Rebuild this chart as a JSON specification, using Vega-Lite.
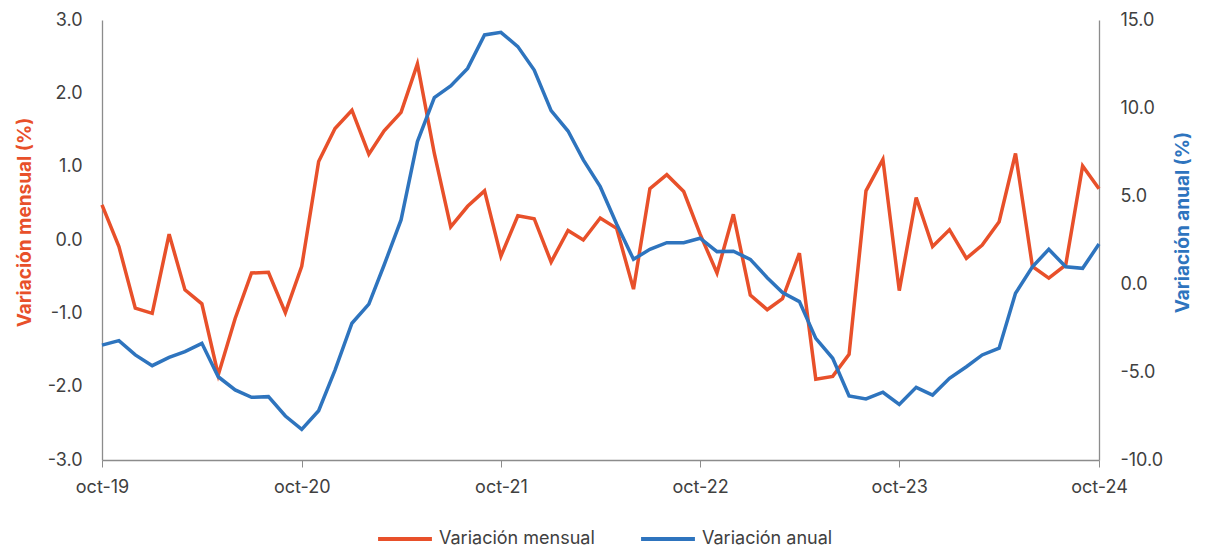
{
  "$schema": "https://vega.github.io/schema/vega-lite/v6.json",
  "autosize": {"type": "none"},
  "width": 997,
  "height": 440,
  "padding": {"left": 102, "top": 20, "right": 109, "bottom": 88},
  "background": "white",
  "config": {
    "view": {"stroke": null},
    "font": "Inter",
    "axis": {
      "labelFont": "Inter",
      "labelFontSize": 18,
      "labelColor": "#404040",
      "domainColor": "#8c8c8c",
      "domainWidth": 1.3,
      "tickColor": "#8c8c8c",
      "grid": false
    },
    "legend": {"labelFont": "Inter", "labelFontSize": 18, "labelColor": "#404040"}
  },
  "data": {
    "values": [
      {"fecha": "2019-10-01", "mensual": 0.48, "anual": -3.47},
      {"fecha": "2019-11-01", "mensual": -0.09, "anual": -3.22},
      {"fecha": "2019-12-01", "mensual": -0.93, "anual": -4.03},
      {"fecha": "2020-01-01", "mensual": -1.0, "anual": -4.64},
      {"fecha": "2020-02-01", "mensual": 0.08, "anual": -4.17},
      {"fecha": "2020-03-01", "mensual": -0.68, "anual": -3.84},
      {"fecha": "2020-04-01", "mensual": -0.87, "anual": -3.37},
      {"fecha": "2020-05-01", "mensual": -1.84, "anual": -5.27},
      {"fecha": "2020-06-01", "mensual": -1.07, "anual": -6.02},
      {"fecha": "2020-07-01", "mensual": -0.45, "anual": -6.44},
      {"fecha": "2020-08-01", "mensual": -0.44, "anual": -6.4},
      {"fecha": "2020-09-01", "mensual": -0.99, "anual": -7.5},
      {"fecha": "2020-10-01", "mensual": -0.36, "anual": -8.26},
      {"fecha": "2020-11-01", "mensual": 1.07, "anual": -7.2},
      {"fecha": "2020-12-01", "mensual": 1.52, "anual": -4.89},
      {"fecha": "2021-01-01", "mensual": 1.77, "anual": -2.23},
      {"fecha": "2021-02-01", "mensual": 1.17, "anual": -1.14},
      {"fecha": "2021-03-01", "mensual": 1.49, "anual": 1.08},
      {"fecha": "2021-04-01", "mensual": 1.74, "anual": 3.64},
      {"fecha": "2021-05-01", "mensual": 2.4, "anual": 8.09},
      {"fecha": "2021-06-01", "mensual": 1.18, "anual": 10.59},
      {"fecha": "2021-07-01", "mensual": 0.18, "anual": 11.25},
      {"fecha": "2021-08-01", "mensual": 0.46, "anual": 12.25},
      {"fecha": "2021-09-01", "mensual": 0.67, "anual": 14.15},
      {"fecha": "2021-10-01", "mensual": -0.22, "anual": 14.3},
      {"fecha": "2021-11-01", "mensual": 0.33, "anual": 13.49},
      {"fecha": "2021-12-01", "mensual": 0.29, "anual": 12.16},
      {"fecha": "2022-01-01", "mensual": -0.3, "anual": 9.85},
      {"fecha": "2022-02-01", "mensual": 0.13, "anual": 8.69},
      {"fecha": "2022-03-01", "mensual": 0.0, "anual": 7.05},
      {"fecha": "2022-04-01", "mensual": 0.3, "anual": 5.53},
      {"fecha": "2022-05-01", "mensual": 0.16, "anual": 3.41},
      {"fecha": "2022-06-01", "mensual": -0.67, "anual": 1.4},
      {"fecha": "2022-07-01", "mensual": 0.7, "anual": 1.97},
      {"fecha": "2022-08-01", "mensual": 0.89, "anual": 2.35},
      {"fecha": "2022-09-01", "mensual": 0.66, "anual": 2.35},
      {"fecha": "2022-10-01", "mensual": 0.08, "anual": 2.6},
      {"fecha": "2022-11-01", "mensual": -0.45, "anual": 1.84},
      {"fecha": "2022-12-01", "mensual": 0.35, "anual": 1.86},
      {"fecha": "2023-01-01", "mensual": -0.75, "anual": 1.4},
      {"fecha": "2023-02-01", "mensual": -0.95, "anual": 0.36},
      {"fecha": "2023-03-01", "mensual": -0.8, "anual": -0.49},
      {"fecha": "2023-04-01", "mensual": -0.18, "anual": -1.0},
      {"fecha": "2023-05-01", "mensual": -1.9, "anual": -3.09},
      {"fecha": "2023-06-01", "mensual": -1.86, "anual": -4.22},
      {"fecha": "2023-07-01", "mensual": -1.56, "anual": -6.36},
      {"fecha": "2023-08-01", "mensual": 0.67, "anual": -6.53},
      {"fecha": "2023-09-01", "mensual": 1.1, "anual": -6.15},
      {"fecha": "2023-10-01", "mensual": -0.69, "anual": -6.84},
      {"fecha": "2023-11-01", "mensual": 0.58, "anual": -5.87},
      {"fecha": "2023-12-01", "mensual": -0.09, "anual": -6.31},
      {"fecha": "2024-01-01", "mensual": 0.14, "anual": -5.36},
      {"fecha": "2024-02-01", "mensual": -0.25, "anual": -4.7},
      {"fecha": "2024-03-01", "mensual": -0.07, "anual": -4.03},
      {"fecha": "2024-04-01", "mensual": 0.25, "anual": -3.65},
      {"fecha": "2024-05-01", "mensual": 1.18, "anual": -0.53},
      {"fecha": "2024-06-01", "mensual": -0.36, "anual": 0.98},
      {"fecha": "2024-07-01", "mensual": -0.52, "anual": 1.97},
      {"fecha": "2024-08-01", "mensual": -0.34, "anual": 0.98},
      {"fecha": "2024-09-01", "mensual": 1.01, "anual": 0.89},
      {"fecha": "2024-10-01", "mensual": 0.7, "anual": 2.27}
    ]
  },
  "encoding": {
    "x": {
      "field": "fecha",
      "type": "temporal",
      "scale": {"type": "utc", "nice": false},
      "axis": {
        "title": null,
        "values": [
          {"year": 2019, "month": 10, "date": 1, "utc": true},
          {"year": 2020, "month": 10, "date": 1, "utc": true},
          {"year": 2021, "month": 10, "date": 1, "utc": true},
          {"year": 2022, "month": 10, "date": 1, "utc": true},
          {"year": 2023, "month": 10, "date": 1, "utc": true},
          {"year": 2024, "month": 10, "date": 1, "utc": true}
        ],
        "labelExpr": "lower(utcFormat(datum.value, '%b-%y'))",
        "tickSize": 7,
        "labelPadding": 11,
        "labelFlush": false
      }
    }
  },
  "layer": [
    {
      "mark": {"type": "line", "strokeWidth": 3.5, "strokeJoin": "miter"},
      "encoding": {
        "y": {
          "field": "mensual",
          "type": "quantitative",
          "scale": {"domain": [-3, 3], "nice": false, "zero": false},
          "axis": {
            "orient": "left",
            "values": [-3, -2, -1, 0, 1, 2, 3],
            "labelExpr": "replace(format(datum.value, '.1f'), '−', '-')",
            "ticks": false,
            "labelPadding": 20,
            "title": "Variación mensual (%)",
            "titleColor": "#E8502A",
            "titleFont": "Inter",
            "titleFontSize": 19,
            "titleFontWeight": "bold",
            "titlePadding": 13,
            "titleY": 202
          }
        },
        "color": {
          "datum": "Variación mensual",
          "type": "nominal",
          "scale": {
            "domain": ["Variación mensual", "Variación anual"],
            "range": ["#E8502A", "#2E74BE"]
          },
          "legend": {
            "title": null,
            "orient": "none",
            "legendX": 274,
            "legendY": 490,
            "direction": "horizontal",
            "symbolType": "stroke",
            "symbolStrokeWidth": 4,
            "symbolSize": 2900,
            "labelOffset": 5,
            "columnPadding": 38
          }
        }
      }
    },
    {
      "mark": {"type": "line", "strokeWidth": 3.5, "strokeJoin": "miter"},
      "encoding": {
        "y": {
          "field": "anual",
          "type": "quantitative",
          "scale": {"domain": [-10, 15], "nice": false, "zero": false},
          "axis": {
            "orient": "right",
            "values": [-10, -5, 0, 5, 10, 15],
            "labelExpr": "replace(format(datum.value, '.1f'), '−', '-')",
            "ticks": false,
            "labelPadding": 21,
            "title": "Variación anual (%)",
            "titleColor": "#2E74BE",
            "titleFont": "Inter",
            "titleFontSize": 19,
            "titleFontWeight": "bold",
            "titleAngle": 270,
            "titlePadding": 30,
            "titleY": 202
          }
        },
        "color": {"datum": "Variación anual", "type": "nominal"}
      }
    }
  ],
  "resolve": {"scale": {"y": "independent"}}
}
